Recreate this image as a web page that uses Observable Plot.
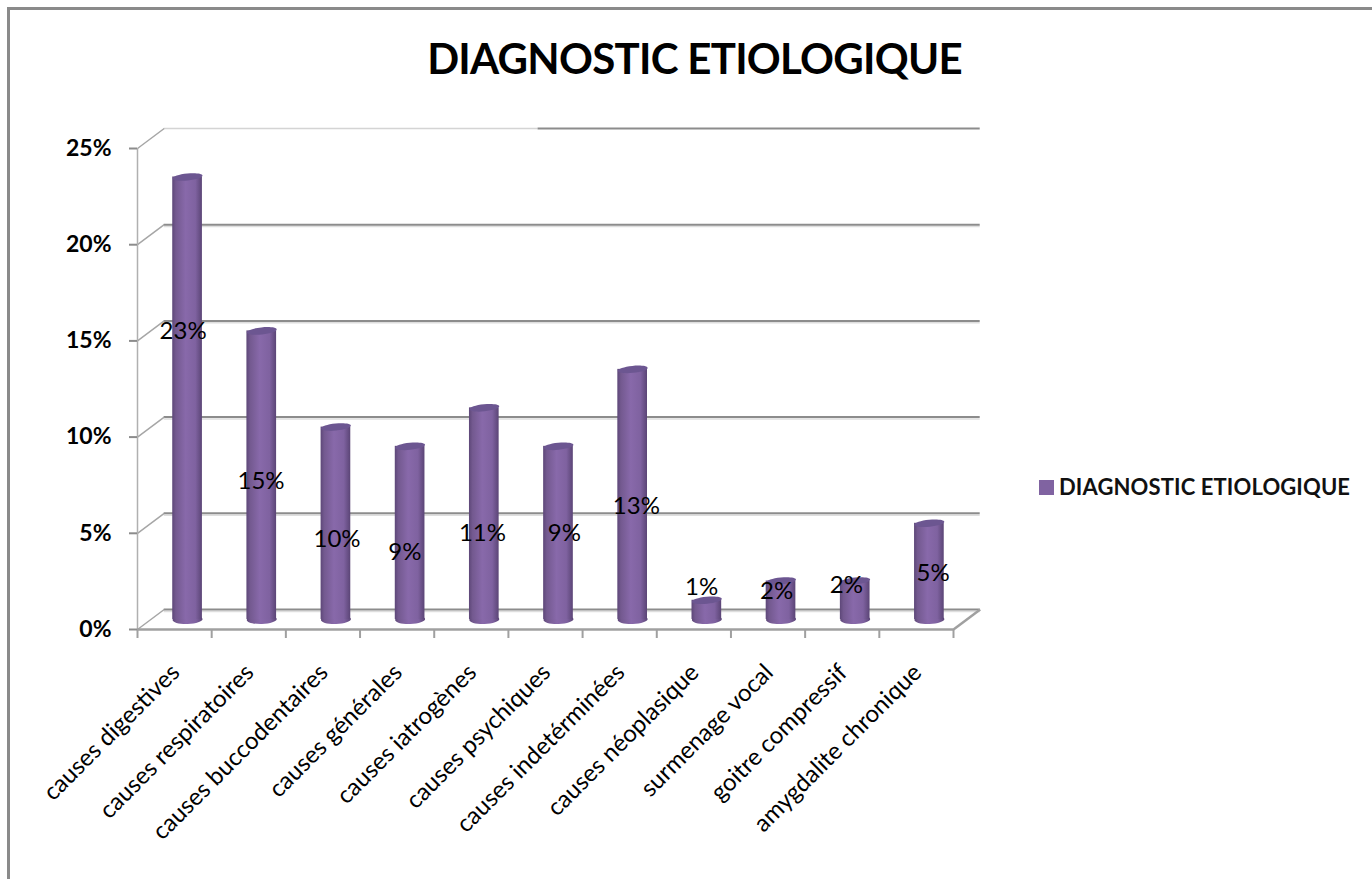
<!DOCTYPE html>
<html><head><meta charset="utf-8">
<script src="https://cdn.jsdelivr.net/npm/d3@7"></script>
<script src="https://cdn.jsdelivr.net/npm/@observablehq/plot@0.6"></script>
<style>
html,body{margin:0;padding:0;background:#fff}
#page{position:relative;width:1372px;height:879px;overflow:hidden;font-family:Lato,sans-serif}
#frame{position:absolute;left:7px;top:7px;right:-5px;bottom:-5px;border-top:3px solid #8a8a8a;border-left:3px solid #8a8a8a}
#page svg{position:absolute;left:0;top:0;overflow:visible}
h1{position:absolute;left:0;width:1389px;top:30px;margin:0;text-align:center;font-size:42px;line-height:56px;font-weight:700;color:#000;letter-spacing:-0.73px}
#legend{position:absolute;left:1039px;top:470px;height:32px;display:flex;align-items:center;font-size:22px;font-weight:700;color:#111;white-space:nowrap;letter-spacing:0.12px}
#legend i{display:inline-block;width:15px;height:15px;background:#8063a1;margin-right:5px;margin-top:3px}
</style></head>
<body>
<div id="page"><div id="frame"></div><h1>DIAGNOSTIC ETIOLOGIQUE</h1><div id="chart"></div>
<div id="legend"><i></i><span>DIAGNOSTIC ETIOLOGIQUE</span></div></div>
<script>
const categories = ["causes digestives","causes respiratoires","causes buccodentaires","causes générales","causes iatrogènes","causes psychiques","causes indetérminées","causes néoplasique","surmenage vocal","goitre compressif","amygdalite chronique"];
const values = [23,15,10,9,11,9,13,1,2,2,5];
const labelLevels = [15.5,7.7,4.7,4,5,5,6.4,2.2,2,2.3,2.9];
const labelShifts = [-0.06,-0.01,0.015,-0.07,-0.025,0.08,0.05,-0.07,-0.06,-0.12,0.05];
const yTicks = [0,5,10,15,20,25];
const xTicks = d3.range(0,12);

const depthX = 0.36, depthY = 1.04, barHalf = 0.2;
const rows = categories.map((name,i)=>({name,i,value:values[i],cx:i+0.5+0.175,labelY:labelLevels[i],labelX:i+0.5+0.175+labelShifts[i]}));
const lean = (rx,ry,tilt)=>({draw(ctx,size){
  const r=Math.sqrt(size/Math.PI), a=r, b=r*ry/rx, k=0.5523, t=tilt;
  const P=(x,y)=>[x*Math.cos(t)+y*Math.sin(t), -x*Math.sin(t)+y*Math.cos(t)];
  const m=P(a,0); ctx.moveTo(m[0],m[1]);
  [[a,k*b,k*a,b,0,b],[-k*a,b,-a,k*b,-a,0],[-a,-k*b,-k*a,-b,0,-b],[k*a,-b,a,-k*b,a,0]].forEach(s=>{
    const p1=P(s[0],s[1]),p2=P(s[2],s[3]),p3=P(s[4],s[5]);
    ctx.bezierCurveTo(p1[0],p1[1],p2[0],p2[1],p3[0],p3[1]);
  });
  ctx.closePath();
}});
const gridBack = yTicks.slice(0,5);
const axisColor="#8c8c8c";
const chart = Plot.plot({
  width:1372,height:879,
  marginLeft:137,marginRight:419,marginTop:148,marginBottom:250,
  style:{background:"transparent",fontFamily:"Lato,sans-serif",color:"#000"},
  x:{domain:[0,11],axis:null},
  y:{domain:[0,25],axis:null},
  marks:[
    Plot.ruleY(gridBack,{y:d=>d+depthY-0.1,x1:depthX,x2:11+depthX,stroke:"#dedede",strokeWidth:1.5}),
    Plot.ruleY(gridBack,{y:d=>d+depthY,x1:depthX,x2:11+depthX,stroke:axisColor,strokeWidth:2}),
    Plot.ruleY([25],{y:d=>d+depthY,x1:depthX,x2:5.4,stroke:"#d4d4d4",strokeWidth:1.5}),
    Plot.ruleY([25],{y:d=>d+depthY,x1:5.4,x2:11+depthX,stroke:axisColor,strokeWidth:2}),
    Plot.link(yTicks,{x1:0,y1:d=>d,x2:depthX,y2:d=>d+depthY,stroke:"#a6a6a6",strokeWidth:1.5}),
    Plot.link([0],{x1:11,y1:0,x2:11+depthX,y2:depthY,stroke:"#a0a0a0",strokeWidth:2.5}),
    Plot.ruleX([0],{y1:0,y2:25,stroke:"#b0b0b0",strokeWidth:1.5}),
    Plot.ruleY([0],{x1:0,x2:11,stroke:"#a0a0a0",strokeWidth:2.5}),
    Plot.axisX({ticks:xTicks,tickSize:9,tickFormat:()=>"",stroke:"#a0a0a0",strokeWidth:2,label:null}),
    Plot.axisY({ticks:yTicks,tickSize:8,tickPadding:18,tickFormat:d=>d+"%",stroke:axisColor,strokeWidth:2,fontSize:23,fontWeight:700,label:null}),
    Plot.dot(rows,{x:"cx",y:0.52,r:15,symbol:lean(15,4.5,0.03),fill:"url(#cyl)"}),
    Plot.rect(rows,{x1:d=>d.cx-barHalf,x2:d=>d.cx+barHalf,y1:0.52,y2:d=>d.value+0.52,fill:"url(#cyl)"}),
    Plot.dot(rows,{x:"cx",y:d=>d.value+0.52,r:15,symbol:lean(15,3.5,0.1),fill:"#6c5691"}),
    Plot.text(rows,{x:"labelX",y:"labelY",text:d=>d.value+"%",fontSize:24,fill:"#000"}),
    Plot.text(rows,{x:d=>d.i+0.5,y:0,text:"name",rotate:-45,textAnchor:"end",dx:1,dy:39,fontSize:24,fill:"#000"})
  ]
});
d3.select(chart).insert("defs",":first-child").html(
 '<linearGradient id="cyl" x1="0" x2="1" y1="0" y2="0">'+
 '<stop offset="0" stop-color="#5d4778"/><stop offset="0.12" stop-color="#73598f"/>'+
 '<stop offset="0.45" stop-color="#8869aa"/><stop offset="0.78" stop-color="#7f62a0"/>'+
 '<stop offset="1" stop-color="#5b4576"/></linearGradient>');
document.getElementById("chart").appendChild(chart);
</script>
</body></html>
